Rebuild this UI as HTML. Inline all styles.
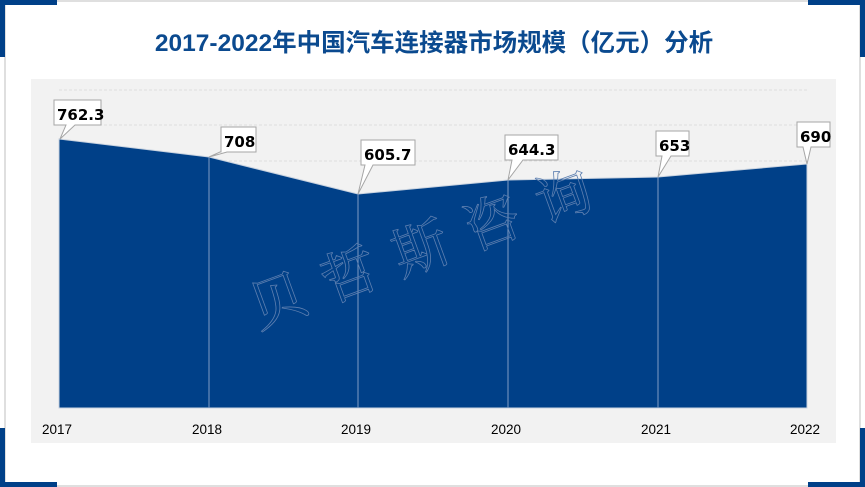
<!DOCTYPE html>
<html><head><meta charset="utf-8"><style>
html,body{margin:0;padding:0;width:865px;height:487px;overflow:hidden;background:#fff}
</style></head><body>
<svg width="865" height="487" xmlns="http://www.w3.org/2000/svg" style="display:block">
<rect x="5" y="1" width="855" height="485" fill="#fff" stroke="#bfbfbf" stroke-width="1"/>
<rect x="0" y="0" width="57" height="5" fill="#004088"/>
<rect x="0" y="0" width="5" height="57" fill="#004088"/>
<rect x="808" y="0" width="57" height="5" fill="#004088"/>
<rect x="860" y="0" width="5" height="57" fill="#004088"/>
<rect x="0" y="482" width="57" height="5" fill="#004088"/>
<rect x="0" y="428" width="5" height="59" fill="#004088"/>
<rect x="808" y="482" width="57" height="5" fill="#004088"/>
<rect x="860" y="428" width="5" height="59" fill="#004088"/>
<text x="434" y="51" text-anchor="middle" font-family="Liberation Sans, Noto Sans CJK SC, sans-serif" font-size="24.5" font-weight="bold" fill="#0b4a8f">2017-2022年中国汽车连接器市场规模（亿元）分析</text>
<rect x="31" y="79" width="805" height="364" fill="#f2f2f2"/>
<g stroke="#dedede" stroke-dasharray="3,2" stroke-width="1">
<line x1="59" x2="807" y1="90" y2="90"/><line x1="59" x2="807" y1="125" y2="125"/><line x1="59" x2="807" y1="161" y2="161"/>
</g>
<polygon points="59,139 209,157 358,194 508,180 658,177 807,164 807,408 59,408" fill="#004088" stroke="#c9d3e0" stroke-width="1"/>
<g stroke="#7f9cc4" stroke-width="1">
<line x1="209" y1="157" x2="209" y2="408"/><line x1="358" y1="194" x2="358" y2="408"/><line x1="508" y1="180" x2="508" y2="408"/><line x1="658" y1="177" x2="658" y2="408"/>
</g>
<g font-family="Liberation Serif, Noto Serif CJK SC, serif" font-size="56" fill="none" stroke="#5d7fb0" stroke-width="0.8" transform="rotate(-20 430 245)">
<text x="430" y="265" text-anchor="middle" letter-spacing="20">贝哲斯咨询</text>
</g>
<g font-family="DejaVu Sans, sans-serif" font-size="15" font-weight="bold" fill="#000">
<path d="M54,100 h47 v25 h-26 l-15,14 l6,-14 h-12 z" fill="#fff" stroke="#a6a6a6"/>
<text x="57" y="120">762.3</text>
<path d="M221,127 h35 v25 h-29 l-18,5 l11,-5 h1 z" fill="#fff" stroke="#a6a6a6"/>
<text x="224" y="147">708</text>
<path d="M361,140 h54 v25 h-42 l-15,29 l7,-29 h-4 z" fill="#fff" stroke="#a6a6a6"/>
<text x="364" y="160">605.7</text>
<path d="M505,135 h53 v25 h-35 l-15,20 l4,-20 h-7 z" fill="#fff" stroke="#a6a6a6"/>
<text x="508" y="155">644.3</text>
<path d="M656,131 h33 v25 h-18 l-13,21 l4,-21 h-6 z" fill="#fff" stroke="#a6a6a6"/>
<text x="659" y="151">653</text>
<path d="M797,122 h33 v25 h-19 l-4,17 l-4,-17 h-6 z" fill="#fff" stroke="#a6a6a6"/>
<text x="800" y="142">690</text>
</g>
<g font-family="Liberation Sans, sans-serif" font-size="13.5" fill="#000" text-anchor="middle">
<text x="57" y="434">2017</text><text x="207" y="434">2018</text><text x="356" y="434">2019</text><text x="506" y="434">2020</text><text x="656" y="434">2021</text><text x="805" y="434">2022</text>
</g>
</svg>
</body></html>
